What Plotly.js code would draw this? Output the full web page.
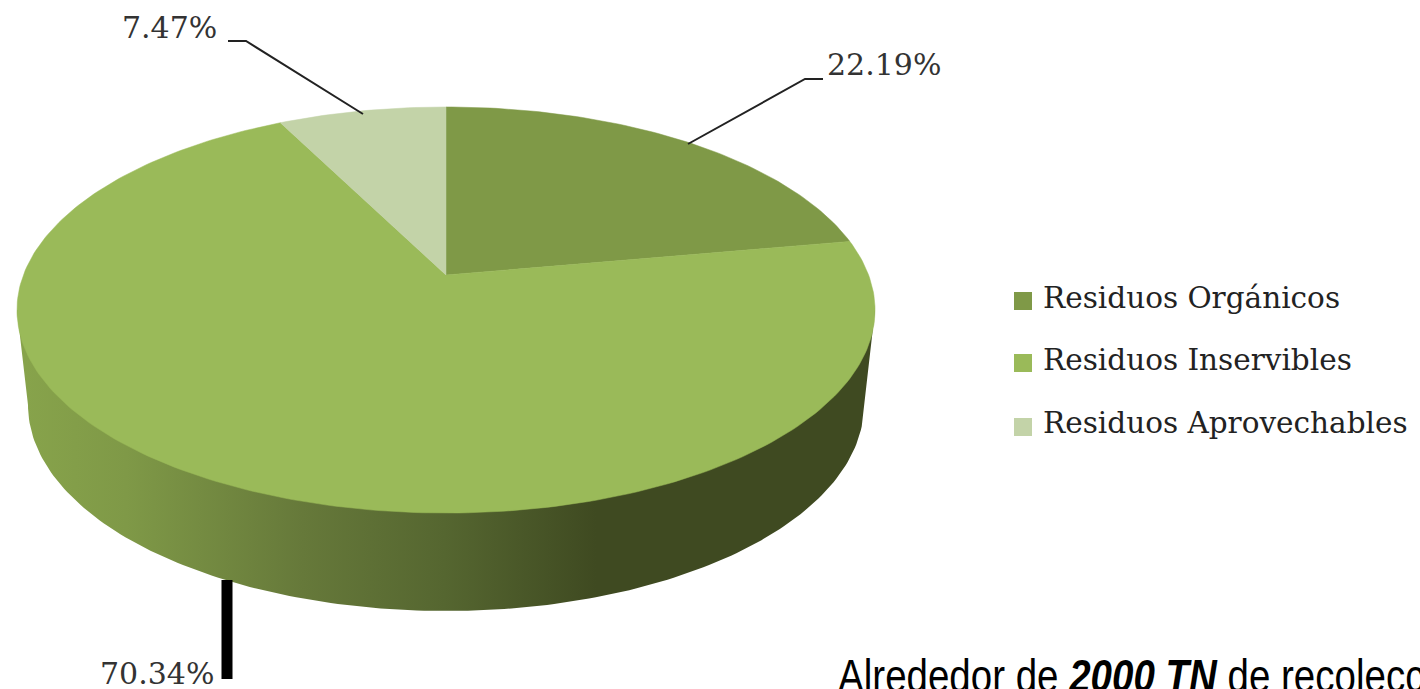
<!DOCTYPE html>
<html>
<head>
<meta charset="utf-8">
<script src="https://cdn.plot.ly/plotly-3.0.1.min.js"></script>
<style>
html,body{margin:0;padding:0;background:#fff;overflow:hidden}
#chart{width:1420px;height:689px}
.annotation[data-index="6"] text{transform-box:fill-box;transform-origin:0 50%;transform:scaleX(.837)}
</style>
</head>
<body>
<div id="chart"></div>
<script>
const categories = ["Residuos Orgánicos", "Residuos Inservibles", "Residuos Aprovechables"];
const values = [22.19, 70.34, 7.47];
const colors = ["#7F9947", "#9ABA59", "#C3D3A8"];
const note = "Alrededor de <i><b>2000 TN</b></i> de recolecc";

// Disc geometry (axes run in page pixels)
const cx = 446, cyApex = 275, persp = -0.1724, ay = 149.6, ax = 422.6;
const baseCy = 405, baseRx = 418, baseRy = 206;
const serif = "DejaVu Serif";

function project(turn) {            // clockwise from 12 o'clock, 0..1
  const t = turn * 2 * Math.PI, u = Math.sin(t), v = -Math.cos(t), d = 1 + persp * v;
  return [cx + ax * u / d, (ay * v + cyApex) / d];
}
function sliceTrace(i) {
  const start = values.slice(0, i).reduce((a, b) => a + b, 0) / 100;
  const span = values[i] / 100, n = Math.ceil(span * 360);
  const xs = [cx], ys = [cyApex];
  for (let k = 0; k <= n; k++) {
    const p = project(start + span * k / n);
    xs.push(p[0]); ys.push(p[1]);
  }
  xs.push(cx); ys.push(cyApex);
  return {x: xs, y: ys, mode: "lines", fill: "toself", fillcolor: colors[i],
          line: {color: colors[i], width: 0.5}, name: categories[i], hoverinfo: "name"};
}
function sideTrace() {
  const sinX = -persp, tanTurn = (Math.PI / 2 + Math.asin(sinX)) / (2 * Math.PI);
  const r = project(tanTurn), l = project(1 - tanTurn);
  const xs = [r[0]], ys = [r[1]];
  for (let k = 0; k <= 180; k++) {
    const t = k / 180 * Math.PI;
    xs.push(cx + baseRx * Math.cos(t));
    ys.push(baseCy + baseRy * Math.sin(t));
  }
  xs.push(l[0], r[0]); ys.push(l[1], r[1]);
  return {x: xs, y: ys, mode: "lines", fill: "toself", line: {width: 0}, hoverinfo: "skip", showlegend: false,
    fillgradient: {type: "horizontal", start: 25, stop: 865, colorscale: [
      [0, "#87A34B"], [0.12, "#7F9947"], [0.33, "#66793A"], [0.5, "#556630"], [0.68, "#3F4A21"], [1, "#3F4A21"]]}};
}
function leader(xs, ys, w, c) {
  return {x: xs, y: ys, mode: "lines", line: {color: c, width: w}, hoverinfo: "skip", showlegend: false};
}
const swatches = {x: [1023, 1023, 1023], y: [301, 363, 427], mode: "markers", hoverinfo: "skip", showlegend: false,
  marker: {symbol: "square", size: 18, color: colors}};

const data = [sideTrace(), ...values.map((_, i) => sliceTrace(i)),
  leader([823, 805, 688], [79, 79, 144], 2, "#222"),
  leader([228, 246, 363], [41, 41, 114], 2, "#222"),
  leader([227, 227], [580, 679], 11, "#000"),
  swatches];

function label(text, x, y, anchor, size, font, color) {
  return {text: text, x: x, y: y, xref: "x", yref: "y", xanchor: anchor, yanchor: "middle", showarrow: false,
          font: {family: font, size: size, color: color}};
}
const pct = v => v.toFixed(2) + "%";
const annotations = [
  label(pct(values[0]), 825, 64, "left", 30, serif, "#333"),
  label(pct(values[2]), 120, 27, "left", 30, serif, "#333"),
  label(pct(values[1]), 98, 673, "left", 30, serif, "#333"),
  ...categories.map((c, i) => label(c, 1041, [298, 360, 423][i], "left", 29.5, serif, "#222")),
  label(note, 836, 676, "left", 46, "Liberation Sans", "#000")
];

Plotly.newPlot("chart", data, {
  width: 1420, height: 689, margin: {l: 0, r: 0, t: 0, b: 0},
  paper_bgcolor: "#fff", plot_bgcolor: "#fff", showlegend: false,
  xaxis: {range: [0, 1420], visible: false, fixedrange: true},
  yaxis: {range: [689, 0], visible: false, fixedrange: true},
  annotations: annotations
}, {displayModeBar: false, staticPlot: true});
</script>
</body>
</html>
